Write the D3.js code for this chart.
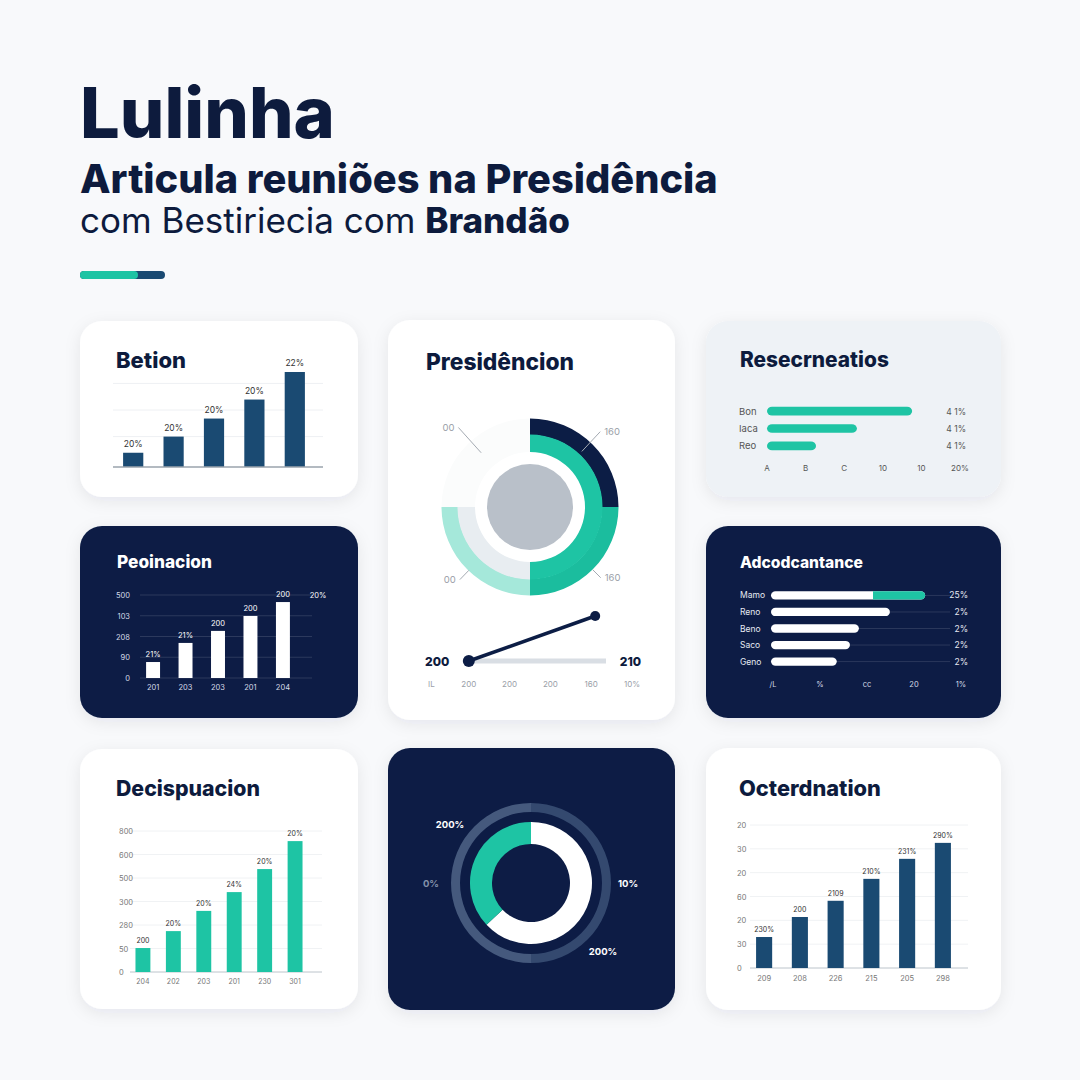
<!DOCTYPE html>
<html><head><meta charset="utf-8">
<script src="https://cdn.jsdelivr.net/npm/d3@7"></script>
<style>
html,body{margin:0;padding:0;background:#f8f9fb;}
svg{display:block;font-family:Inter,"Noto Sans",sans-serif;}
</style>
</head><body>
<svg id="c" width="1080" height="1080"></svg>
<script>
// ---------------- DATA ----------------
const titleMain = "Lulinha";
const titleSub = "Articula reuniões na Presidência";
const titleSub2a = "com Bestiriecia com ";
const titleSub2b = "Brandão";

// Card 1 – Betion
const betionTitle = "Betion";
const betionValues = [15, 32, 51, 71, 100];
const betionLabels = ["20%", "20%", "20%", "20%", "22%"];
const betionGrid = [32, 60, 88];

// Card 2 – Presidêncion
const presTitle = "Presidêncion";
const presOuterRing = [25, 25, 25, 25];   // navy, teal, light teal, faint
const presInnerRing = [50, 25, 25];       // teal, light gray, faint
const presCallouts = ["00", "160", "160", "00"];
const presLineIdx = [1, 4];
const presLineVals = [200, 210];
const presLineLabels = ["200", "210"];
const presTicks = ["IL", "200", "200", "200", "160", "10%"];

// Card 3 – Resecrneatios
const resTitle = "Resecrneatios";
const resCats = ["Bon", "Iaca", "Reo"];
const resValues = [3.76, 2.33, 1.27];
const resValLabels = ["4 1%", "4 1%", "4 1%"];
const resTicks = ["A", "B", "C", "10", "10", "20%"];

// Card 4 – Peoinacion
const peoTitle = "Peoinacion";
const peoValues = [0.77, 1.69, 2.27, 2.99, 3.66];
const peoLabels = ["21%", "21%", "200", "200", "200"];
const peoCats = ["201", "203", "203", "201", "204"];
const peoTicks = ["0", "90", "208", "103", "500"];
const peoSide = "20%";

// Card 5 – Adcodcantance
const adcTitle = "Adcodcantance";
const adcCats = ["Mamo", "Reno", "Beno", "Saco", "Geno"];
const adcValues = [3.28, 2.53, 1.87, 1.68, 1.40];
const adcHighlightFrom = 2.17;
const adcValLabels = ["25%", "2%", "2%", "2%", "2%"];
const adcTicks = ["/L", "%", "cc", "20", "1%"];

// Card 6 – Decispuacion
const decTitle = "Decispuacion";
const decValues = [1.02, 1.74, 2.6, 3.4, 4.38, 5.57];
const decLabels = ["200", "20%", "20%", "24%", "20%", "20%"];
const decCats = ["204", "202", "203", "201", "230", "301"];
const decTicks = ["0", "50", "280", "300", "500", "600", "800"];

// Card 7 – donut
const donutValues = [63, 37]; // white, teal
const donutLabels = ["200%", "0%", "10%", "200%"];

// Card 8 – Octerdnation
const octTitle = "Octerdnation";
const octValues = [1.3, 2.14, 2.82, 3.74, 4.58, 5.25];
const octLabels = ["230%", "200", "2109", "210%", "231%", "290%"];
const octCats = ["209", "208", "226", "215", "205", "298"];
const octTicks = ["0", "30", "20", "60", "20", "30", "20"];

// ---------------- STYLE ----------------
const NAVY = "#0c1d45", INK = "#0d1b3d", TEAL = "#1ec4a4", BLUE = "#1a4a72";
const svg = d3.select("#c");
svg.append("rect").attr("width", 1080).attr("height", 1080).attr("fill", "#f8f9fb");

const defs = svg.append("defs");
const f = defs.append("filter").attr("id", "sh").attr("x", "-20%").attr("y", "-20%").attr("width", "140%").attr("height", "140%");
f.append("feDropShadow").attr("dx", 0).attr("dy", 4).attr("stdDeviation", 8)
  .attr("flood-color", "#1a2a4a").attr("flood-opacity", 0.08);

function fit(t, w) {
  const l = t.node().getComputedTextLength();
  const fs = parseFloat(t.attr("font-size"));
  t.attr("font-size", fs * w / l);
  return t;
}
function card(x, y, w, h, fill) {
  svg.append("rect").attr("x", x).attr("y", y).attr("width", w).attr("height", h)
    .attr("rx", 22).attr("fill", fill).attr("filter", "url(#sh)");
  return svg.append("g");
}
function cardTitle(g, txt, x, y, w, color) {
  const t = g.append("text").attr("x", x).attr("y", y).text(txt)
    .attr("font-size", 20).attr("font-weight", 800).attr("fill", color);
  fit(t, w);
}

// ---------------- HEADER ----------------
fit(svg.append("text").attr("x", 80).attr("y", 138).text(titleMain)
  .attr("font-size", 70).attr("font-weight", 800).attr("fill", INK), 255);
fit(svg.append("text").attr("x", 80).attr("y", 193).text(titleSub)
  .attr("font-size", 36).attr("font-weight", 800).attr("fill", INK), 638);
const s2 = svg.append("text").attr("x", 80).attr("y", 233).attr("font-size", 34).attr("fill", INK);
s2.append("tspan").text(titleSub2a).attr("font-weight", 400);
s2.append("tspan").text(titleSub2b).attr("font-weight", 800);
fit(s2, 490);
svg.append("rect").attr("x", 80).attr("y", 271).attr("width", 85).attr("height", 8).attr("rx", 4).attr("fill", BLUE);
svg.append("rect").attr("x", 80).attr("y", 271).attr("width", 58).attr("height", 8).attr("rx", 4).attr("fill", TEAL);

// ---------------- CARD 1 ----------------
{
  const g = card(80, 321, 278, 176, "#ffffff");
  cardTitle(g, betionTitle, 116, 368, 70, INK);
  const x = d3.scaleBand().domain(d3.range(betionValues.length)).range([113, 315]).paddingInner(0.5).paddingOuter(0.25);
  const y = d3.scaleLinear().domain([0, 100]).range([467, 372]);
  g.selectAll(".gr").data(betionGrid).join("line").attr("x1", 113).attr("x2", 323)
    .attr("y1", d => y(d)).attr("y2", d => y(d)).attr("stroke", "#eef0f3");
  g.selectAll(".b").data(betionValues).join("rect").attr("x", (d, i) => x(i)).attr("width", x.bandwidth())
    .attr("y", d => y(d)).attr("height", d => y(0) - y(d)).attr("fill", BLUE);
  g.append("line").attr("x1", 113).attr("x2", 323).attr("y1", y(0)).attr("y2", y(0)).attr("stroke", "#9aa3ad").attr("stroke-width", 1.5);
  g.selectAll(".l").data(betionValues).join("text").attr("x", (d, i) => x(i) + x.bandwidth() / 2).attr("y", d => y(d) - 6)
    .attr("text-anchor", "middle").attr("font-size", 8.5).attr("fill", "#333").text((d, i) => betionLabels[i]);
}

// ---------------- CARD 2 ----------------
{
  const g = card(388, 320, 287, 400, "#ffffff");
  cardTitle(g, presTitle, 426, 370, 148, INK);
  const cx = 530, cy = 507;
  const c = g.append("g").attr("transform", `translate(${cx},${cy})`);
  const pie = d3.pie().sort(null).value(d => d);
  const outer = pie(presOuterRing), inner = pie(presInnerRing);
  const outerCols = [NAVY, "#1bbd9e", "#a5e8da", "#fbfcfc"];
  const innerCols = [TEAL, "#e8edf1", "#fbfcfc"];
  const arcO = d3.arc().innerRadius(72).outerRadius(88.5);
  const arcI = d3.arc().innerRadius(55).outerRadius(72.5);
  c.selectAll(".o").data(outer).join("path").attr("d", arcO).attr("fill", (d, i) => outerCols[i]);
  c.selectAll(".i").data(inner).join("path").attr("d", arcI).attr("fill", (d, i) => innerCols[i]);
  c.append("circle").attr("r", 43).attr("fill", "#b9c0c9");
  // callouts
  const deg = Math.PI / 180;
  const ang = [-42 * deg, 43 * deg, 135 * deg, -136 * deg];
  const lr = [[73, 107], [76, 103], [89, 100], [88, 101]];
  ang.forEach((a, i) => {
    const sx = Math.sin(a), sy = -Math.cos(a);
    c.append("line").attr("x1", sx * lr[i][0]).attr("y1", sy * lr[i][0]).attr("x2", sx * lr[i][1]).attr("y2", sy * lr[i][1])
      .attr("stroke", "#a4aab2").attr("stroke-width", 1);
    const tx = sx * lr[i][1] + (sx > 0 ? 4 : -4), ty = sy * lr[i][1] + 3.5;
    c.append("text").attr("x", tx).attr("y", ty).attr("text-anchor", sx > 0 ? "start" : "end")
      .attr("font-size", 9.5).attr("fill", "#9aa0a8").text(presCallouts[i]);
  });
  // line mini chart
  const xp = d3.scalePoint().domain(d3.range(presTicks.length)).range([428, 632]);
  const yp = d3.scaleLinear().domain([200, 210]).range([661, 616]);
  g.append("line").attr("x1", xp(1)).attr("x2", 606).attr("y1", yp(200)).attr("y2", yp(200))
    .attr("stroke", "#d9dee4").attr("stroke-width", 5);
  const pts = presLineIdx.map((ix, i) => [xp(ix) + (i ? 4 : 0), yp(presLineVals[i])]);
  g.append("path").attr("d", d3.line()(pts)).attr("stroke", NAVY).attr("stroke-width", 3.5).attr("fill", "none");
  g.selectAll(".pt").data(pts).join("circle").attr("cx", d => d[0]).attr("cy", d => d[1]).attr("r", (d, i) => i ? 5 : 6).attr("fill", NAVY);
  g.append("text").attr("x", 425).attr("y", 666).attr("font-size", 12).attr("font-weight", 800).attr("fill", INK).text(presLineLabels[0]);
  g.append("text").attr("x", 641).attr("y", 666).attr("text-anchor", "end").attr("font-size", 12).attr("font-weight", 800).attr("fill", INK).text(presLineLabels[1]);
  g.selectAll(".pt2").data(presTicks).join("text").attr("x", (d, i) => xp(i)).attr("y", 687)
    .attr("text-anchor", (d, i) => i === 0 ? "start" : "middle").attr("font-size", 8).attr("fill", "#9aa0a8").text(d => d);
}

// ---------------- CARD 3 ----------------
{
  const g = card(706, 321, 295, 176, "#eef2f6");
  cardTitle(g, resTitle, 740, 367, 149, INK);
  const x = d3.scaleLinear().domain([0, resTicks.length - 1]).range([767, 960]);
  const y = d3.scaleBand().domain(resCats).range([398, 459]).padding(0.5);
  g.selectAll(".b").data(resValues).join("rect").attr("x", x(0)).attr("y", (d, i) => y(resCats[i]))
    .attr("width", d => x(d) - x(0)).attr("height", y.bandwidth()).attr("rx", 5).attr("fill", TEAL);
  g.selectAll(".c").data(resCats).join("text").attr("x", 739).attr("y", d => y(d) + y.bandwidth() / 2 + 3.5)
    .attr("font-size", 9.5).attr("fill", "#555").text(d => d);
  g.selectAll(".v").data(resValLabels).join("text").attr("x", 966).attr("y", (d, i) => y(resCats[i]) + y.bandwidth() / 2 + 3.5)
    .attr("text-anchor", "end").attr("font-size", 8.5).attr("fill", "#555").text(d => d);
  g.selectAll(".t").data(resTicks).join("text").attr("x", (d, i) => x(i)).attr("y", 471)
    .attr("text-anchor", "middle").attr("font-size", 8).attr("fill", "#555").text(d => d);
}

// ---------------- CARD 4 ----------------
{
  const g = card(80, 526, 278, 192, NAVY);
  cardTitle(g, peoTitle, 117, 568, 95, "#ffffff");
  const x = d3.scaleBand().domain(d3.range(peoValues.length)).range([137, 299]).paddingInner(0.57).paddingOuter(0.28);
  const y = d3.scaleLinear().domain([0, 4]).range([678, 595]);
  g.selectAll(".gr").data(d3.range(5)).join("line").attr("x1", 140).attr("x2", 312)
    .attr("y1", d => y(d)).attr("y2", d => y(d)).attr("stroke", "rgba(255,255,255,0.13)");
  g.selectAll(".t").data(peoTicks).join("text").attr("x", 130).attr("y", (d, i) => y(i) + 3)
    .attr("text-anchor", "end").attr("font-size", 7.5).attr("fill", "#d5dbe8").text(d => d);
  g.selectAll(".b").data(peoValues).join("rect").attr("x", (d, i) => x(i)).attr("width", x.bandwidth())
    .attr("y", d => y(d)).attr("height", d => y(0) - y(d)).attr("fill", "#ffffff");
  g.selectAll(".l").data(peoValues).join("text").attr("x", (d, i) => x(i) + x.bandwidth() / 2).attr("y", d => y(d) - 5)
    .attr("text-anchor", "middle").attr("font-size", 7.5).attr("fill", "#ffffff").text((d, i) => peoLabels[i]);
  g.selectAll(".xc").data(peoCats).join("text").attr("x", (d, i) => x(i) + x.bandwidth() / 2).attr("y", 690)
    .attr("text-anchor", "middle").attr("font-size", 7.5).attr("fill", "#d5dbe8").text(d => d);
  g.append("text").attr("x", 318).attr("y", y(4) + 3).attr("text-anchor", "middle").attr("font-size", 7.5).attr("fill", "#ffffff").text(peoSide);
}

// ---------------- CARD 5 ----------------
{
  const g = card(706, 526, 295, 192, NAVY);
  cardTitle(g, adcTitle, 740, 568, 123, "#ffffff");
  const x = d3.scaleLinear().domain([0, adcTicks.length - 1]).range([771, 959]);
  const y = d3.scaleBand().domain(adcCats).range([583, 674]).padding(0.5);
  g.selectAll(".tr").data(adcValues).join("line").attr("x1", d => x(d)).attr("x2", 950)
    .attr("y1", (d, i) => y(adcCats[i]) + y.bandwidth() / 2).attr("y2", (d, i) => y(adcCats[i]) + y.bandwidth() / 2)
    .attr("stroke", "rgba(255,255,255,0.12)");
  g.selectAll(".b").data(adcValues).join("rect").attr("x", x(0)).attr("y", (d, i) => y(adcCats[i]))
    .attr("width", d => x(d) - x(0)).attr("height", y.bandwidth()).attr("rx", 4.5).attr("fill", "#ffffff");
  g.append("path").attr("fill", TEAL).attr("d", () => {
    const x0 = x(adcHighlightFrom), x1 = x(adcValues[0]), y0 = y(adcCats[0]), h = y.bandwidth(), r = h / 2;
    return `M${x0},${y0}H${x1 - r}A${r},${r} 0 0 1 ${x1 - r},${y0 + h}H${x0}Z`;
  });
  g.selectAll(".c").data(adcCats).join("text").attr("x", 740).attr("y", d => y(d) + y.bandwidth() / 2 + 3)
    .attr("font-size", 8.5).attr("fill", "#e6eaf2").text(d => d);
  g.selectAll(".v").data(adcValLabels).join("text").attr("x", 968).attr("y", (d, i) => y(adcCats[i]) + y.bandwidth() / 2 + 3)
    .attr("text-anchor", "end").attr("font-size", 8.5).attr("fill", "#e6eaf2").text(d => d);
  g.selectAll(".t").data(adcTicks).join("text").attr("x", (d, i) => x(i) + 2).attr("y", 687)
    .attr("text-anchor", "middle").attr("font-size", 7.5).attr("fill", "#d5dbe8").text(d => d);
}

// ---------------- CARD 6 ----------------
{
  const g = card(80, 749, 278, 260, "#ffffff");
  cardTitle(g, decTitle, 116, 796, 144, INK);
  const x = d3.scaleBand().domain(d3.range(decValues.length)).range([130, 308]).paddingInner(0.51).paddingOuter(0.18);
  const y = d3.scaleLinear().domain([0, 6]).range([972, 831]);
  g.selectAll(".gr").data(d3.range(7)).join("line").attr("x1", 130).attr("x2", 322)
    .attr("y1", d => y(d)).attr("y2", d => y(d)).attr("stroke", "#f0f2f4");
  g.append("line").attr("x1", 130).attr("x2", 322).attr("y1", y(0)).attr("y2", y(0)).attr("stroke", "#c4cad1");
  g.selectAll(".t").data(decTicks).join("text").attr("x", 119).attr("y", (d, i) => y(i) + 3)
    .attr("font-size", 7.5).attr("fill", "#777").text(d => d);
  g.selectAll(".b").data(decValues).join("rect").attr("x", (d, i) => x(i)).attr("width", x.bandwidth())
    .attr("y", d => y(d)).attr("height", d => y(0) - y(d)).attr("fill", TEAL);
  g.selectAll(".l").data(decValues).join("text").attr("x", (d, i) => x(i) + x.bandwidth() / 2).attr("y", d => y(d) - 5)
    .attr("text-anchor", "middle").attr("font-size", 7).attr("fill", "#333").text((d, i) => decLabels[i]);
  g.selectAll(".xc").data(decCats).join("text").attr("x", (d, i) => x(i) + x.bandwidth() / 2).attr("y", 984)
    .attr("text-anchor", "middle").attr("font-size", 7).attr("fill", "#777").text(d => d);
}

// ---------------- CARD 7 ----------------
{
  const g = card(388, 748, 287, 262, NAVY);
  const c = g.append("g").attr("transform", "translate(531,883)");
  c.append("path").attr("d", d3.arc().innerRadius(71).outerRadius(80).startAngle(0).endAngle(Math.PI)()).attr("fill", "#34496f");
  c.append("path").attr("d", d3.arc().innerRadius(71).outerRadius(80).startAngle(Math.PI).endAngle(2 * Math.PI)()).attr("fill", "#45597d");
  const arcs = d3.pie().sort(null).value(d => d)(donutValues);
  const cols = ["#ffffff", TEAL];
  c.selectAll(".d").data(arcs).join("path").attr("d", d3.arc().innerRadius(39).outerRadius(61)).attr("fill", (d, i) => cols[i]);
  const pos = [[-81, -55, "middle", "#ffffff"], [-100, 4, "middle", "#8391aa"], [97, 4, "middle", "#ffffff"], [72, 72, "middle", "#ffffff"]];
  donutLabels.forEach((t, i) => c.append("text").attr("x", pos[i][0]).attr("y", pos[i][1]).attr("text-anchor", pos[i][2])
    .attr("font-size", 9.5).attr("font-weight", 700).attr("fill", pos[i][3]).text(t));
}

// ---------------- CARD 8 ----------------
{
  const g = card(706, 748, 295, 262, "#ffffff");
  cardTitle(g, octTitle, 739, 796, 142, INK);
  const x = d3.scaleBand().domain(d3.range(octValues.length)).range([750, 957]).paddingInner(0.55).paddingOuter(0.17);
  const y = d3.scaleLinear().domain([0, 6]).range([968, 825]);
  g.selectAll(".gr").data(d3.range(7)).join("line").attr("x1", 750).attr("x2", 968)
    .attr("y1", d => y(d)).attr("y2", d => y(d)).attr("stroke", "#f0f2f4");
  g.append("line").attr("x1", 750).attr("x2", 968).attr("y1", y(0)).attr("y2", y(0)).attr("stroke", "#c4cad1");
  g.selectAll(".t").data(octTicks).join("text").attr("x", 737).attr("y", (d, i) => y(i) + 3)
    .attr("font-size", 7.5).attr("fill", "#777").text(d => d);
  g.selectAll(".b").data(octValues).join("rect").attr("x", (d, i) => x(i)).attr("width", x.bandwidth())
    .attr("y", d => y(d)).attr("height", d => y(0) - y(d)).attr("fill", BLUE);
  g.selectAll(".l").data(octValues).join("text").attr("x", (d, i) => x(i) + x.bandwidth() / 2).attr("y", d => y(d) - 5)
    .attr("text-anchor", "middle").attr("font-size", 7).attr("fill", "#333").text((d, i) => octLabels[i]);
  g.selectAll(".xc").data(octCats).join("text").attr("x", (d, i) => x(i) + x.bandwidth() / 2).attr("y", 981)
    .attr("text-anchor", "middle").attr("font-size", 7.5).attr("fill", "#777").text(d => d);
}
</script>
</body></html>
